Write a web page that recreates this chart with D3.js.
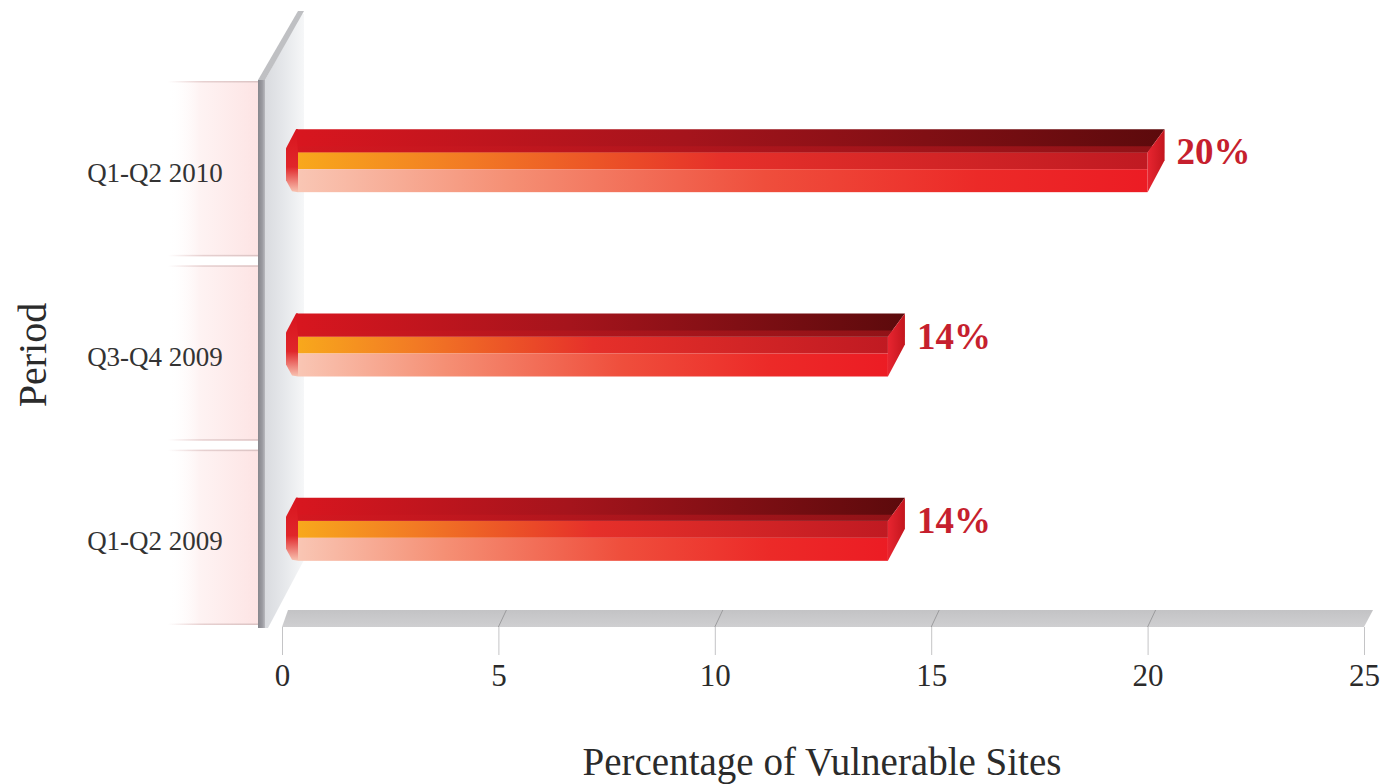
<!DOCTYPE html>
<html>
<head>
<meta charset="utf-8">
<script src="https://cdn.jsdelivr.net/npm/d3@7"></script>
<style>
  html, body { margin: 0; padding: 0; background: #ffffff; }
  svg { display: block; }
  text { font-family: "Liberation Serif", "DejaVu Serif", serif; }
</style>
</head>
<body>
<svg id="chart" width="1386" height="784"></svg>
<script>
// Share of vulnerable sites per reporting period
const periods = ["Q1-Q2 2010", "Q3-Q4 2009", "Q1-Q2 2009"];
const vulnerablePct = [20, 14, 14];
const xTicks = [0, 5, 10, 15, 20, 25];
const xTitle = "Percentage of Vulnerable Sites";
const yTitle = "Period";

const svg = d3.select("#chart");
const defs = svg.append("defs");

const x = d3.scaleLinear().domain([0, 25]).range([282, 1364]);
const y = d3.scaleBand().domain(periods).range([80, 633]).paddingInner(0);

const floorTop = 610, floorBottom = 627;
const depthX = 17;

function linGrad(id, stops, vertical) {
  const g = defs.append("linearGradient").attr("id", id)
    .attr("x1", 0).attr("y1", 0)
    .attr("x2", vertical ? 0 : 1).attr("y2", vertical ? 1 : 0);
  stops.forEach(([o, c, a]) => g.append("stop").attr("offset", o)
    .attr("stop-color", c).attr("stop-opacity", a == null ? 1 : a));
  return `url(#${id})`;
}

const gPanel = linGrad("panelFill", [[0, "#ffffff", 0], [0.35, "#fef3f3", 1], [1, "#fde4e4", 1]]);
const gPanelLine = linGrad("panelLine", [[0, "#e6cccc", 0], [0.4, "#e6d0d0", 1], [1, "#dcc4c4", 1]]);
const gWallEdge = linGrad("wallEdge", [[0, "#87878d"], [0.6, "#9a9aa0"], [1, "#b9b9be"]]);
const gWall = linGrad("wallFill", [[0, "#d9dbdf"], [0.5, "#e6e8eb"], [1, "#f6f7f8"]]);
const gFloor = linGrad("floorFill", [[0, "#c3c3c5"], [1, "#cfcfd1"]], true);
const gTop = linGrad("topFace", [[0, "#d8161f"], [0.45, "#a5141c"], [1, "#5c0a0c"]]);
const gTopEdge = linGrad("topEdge", [[0, "#d41820"], [0.5, "#b0161d"], [1, "#9a1419"]]);
const gUpper = linGrad("frontUpper", [[0, "#f8a81c"], [0.2, "#f27a24"], [0.5, "#e6302a"], [1, "#c01a22"]]);
const gLower = linGrad("frontLower", [[0, "#f9c6b4"], [0.25, "#f58f74"], [0.55, "#ef4e3c"], [0.8, "#ec2a28"], [1, "#ec1c24"]]);
const gSide = linGrad("sideFace", [[0, "#e82530"], [1, "#c3161e"]]);
const gCap = linGrad("capFace", [[0, "#d8141e"], [0.6, "#e0262a"], [1, "#f8c4b2"]], true);

// Category panels on the left wall
const panels = svg.append("g");
periods.forEach(p => {
  const top = y(p) + 1, h = y.bandwidth() - 9;
  panels.append("rect").attr("x", 168).attr("y", top).attr("width", 90).attr("height", h)
    .attr("fill", gPanel);
  panels.append("rect").attr("x", 168).attr("y", top).attr("width", 90).attr("height", 1.5)
    .attr("fill", gPanelLine);
  panels.append("rect").attr("x", 168).attr("y", top + h - 1.5).attr("width", 90).attr("height", 1.5)
    .attr("fill", gPanelLine);
});

// Wall: receding panel, top bevel and front edge
const wall = svg.append("g");
wall.append("polygon")
  .attr("points", [[265, 80], [301, 14], [304, 14], [304, 560], [268, 628], [265, 628]].join(" "))
  .attr("fill", gWall);
wall.append("polygon")
  .attr("points", [[258, 80], [298, 11], [304, 11], [265, 80]].join(" "))
  .attr("fill", "#bfc0c3");
wall.append("rect").attr("x", 258).attr("y", 80).attr("width", 7).attr("height", 548)
  .attr("fill", gWallEdge);

// Floor strip under the bars
svg.append("polygon")
  .attr("points", [[x(0), floorBottom], [x(0) + 6, floorTop], [x(25) + 9, floorTop], [x(25), floorBottom]].join(" "))
  .attr("fill", gFloor);
svg.append("g").selectAll("line").data(xTicks.slice(1, -1)).join("line")
  .attr("x1", d => x(d)).attr("y1", floorBottom)
  .attr("x2", d => x(d) + 8).attr("y2", floorTop)
  .attr("stroke", "#9c9c9e").attr("stroke-width", 1);

// Bottom axis
const axis = svg.append("g").attr("transform", `translate(0,${floorBottom})`)
  .call(d3.axisBottom(x).tickValues(xTicks).tickSize(28).tickPadding(9).tickFormat(d3.format("d")));
axis.select(".domain").remove();
axis.selectAll(".tick line").attr("stroke", "#c4c4c6").attr("stroke-width", 1);
axis.selectAll(".tick text").attr("fill", "#2b2b2b")
  .style("font-family", "'Liberation Serif', serif").style("font-size", "31px");

// Category labels
svg.append("g").selectAll("text").data(periods).join("text")
  .attr("x", 155).attr("y", d => y(d) + y.bandwidth() / 2)
  .attr("dy", "0.35em").attr("text-anchor", "middle")
  .attr("fill", "#333333").style("font-size", "27px")
  .text(d => d);

// 3D bars
const rows = periods.map((p, i) => ({ period: p, value: vulnerablePct[i] }));
const bars = svg.append("g").selectAll("g").data(rows).join("g");

bars.each(function (d) {
  const g = d3.select(this);
  const y0 = y(d.period) + y.bandwidth() / 2 - 43;
  const xL = x(0) + 16, xR = x(d.value);
  const tH = 23, mid = 40, bH = 63;

  g.append("polygon")
    .attr("points", [[xL, y0], [xL, y0 + bH], [xL - 6, y0 + bH - 1], [xL - 12, y0 + bH - 12],
                     [xL - 12, y0 + 19], [xL - 2, y0]].join(" "))
    .attr("fill", gCap);
  g.append("rect").attr("x", xL).attr("y", y0 + tH).attr("width", xR - xL).attr("height", mid - tH)
    .attr("fill", gUpper);
  g.append("rect").attr("x", xL).attr("y", y0 + mid).attr("width", xR - xL).attr("height", bH - mid)
    .attr("fill", gLower);
  g.append("polygon")
    .attr("points", [[xL - 2, y0], [xR + depthX, y0], [xR, y0 + tH], [xL, y0 + tH]].join(" "))
    .attr("fill", gTop);
  g.append("polygon")
    .attr("points", [[xL, y0 + tH - 6], [xR + 6, y0 + tH - 6], [xR, y0 + tH], [xL, y0 + tH]].join(" "))
    .attr("fill", gTopEdge).attr("opacity", 0.85);
  g.append("polygon")
    .attr("points", [[xR, y0 + tH], [xR + depthX, y0], [xR + depthX, y0 + 31], [xR, y0 + bH]].join(" "))
    .attr("fill", gSide);

  g.append("text")
    .attr("x", xR + 29).attr("y", y0 + 35)
    .attr("fill", "#c61f2e").style("font-size", "37px").style("font-weight", "bold")
    .text(d.value + "%");
});

// Axis titles
svg.append("text").attr("x", 822).attr("y", 775).attr("text-anchor", "middle")
  .attr("fill", "#2b2b2b").style("font-size", "39px").text(xTitle);
svg.append("text").attr("transform", "translate(46,355) rotate(-90)").attr("text-anchor", "middle")
  .attr("fill", "#2b2b2b").style("font-size", "40px").text(yTitle);
</script>
</body>
</html>
